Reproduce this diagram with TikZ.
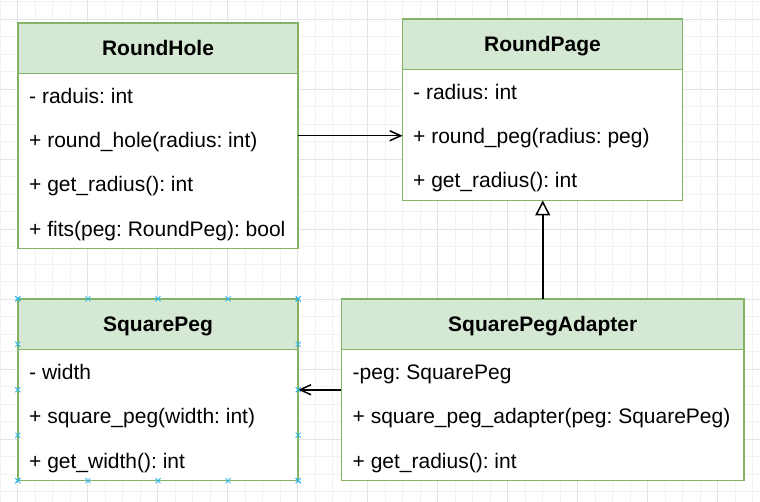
\documentclass[tikz,border=0pt]{standalone}
\usepackage{fontspec}
\setmainfont{Liberation Sans}
\usetikzlibrary{positioning,fit,arrows.meta,calc}
\definecolor{umlline}{HTML}{82B366}
\definecolor{umlfill}{HTML}{D5E8D4}
\definecolor{selblue}{HTML}{29B6F2}
\frenchspacing

\begin{document}
\begin{tikzpicture}[
  head/.style={draw=umlline,fill=umlfill,line width=1.5pt,outer sep=0pt,inner sep=0pt,minimum width=280pt,minimum height=50.5pt,font=\fontsize{21}{25}\selectfont\bfseries,text height=15pt,text depth=0pt,anchor=north west},
  body/.style={draw=umlline,fill=white,line width=1.5pt,outer sep=0pt,inner sep=0pt,minimum width=280pt,minimum height=131pt},
  row/.style={font=\fontsize{21}{25}\selectfont,inner sep=0pt,text height=15pt,text depth=29pt},
  assoc/.style={line width=1.5pt,-{Straight Barb[length=11pt,width=10pt,line width=1.5pt]}},
  inherit/.style={line width=1.5pt,-{Triangle[open,length=15pt,width=15pt,fill=white,line width=1.5pt]}},
  sel/.style={selblue,line width=0.8pt}
]
\useasboundingbox (0,0) rectangle (760pt,-502pt);
\fill[white] (0,0) rectangle (760pt,-502pt);

% Background grid
\begin{scope}[shift={(17.5pt,-19pt)}]
\clip (-17.5pt,19pt) rectangle (742.5pt,-483pt);
\draw[gray!10,line width=0.8pt,step=17.5pt] (-35pt,-490pt) grid (750pt,35pt);
\draw[gray!22,line width=0.8pt,step=70pt] (-70pt,-490pt) grid (750pt,70pt);
\end{scope}

% RoundHole
\node[head] (holehead) at (18pt,-23pt) {RoundHole};
\node[body,minimum height=175pt,below=0pt of holehead] (holebody) {};
\node[row,below right=14.5pt and 11pt of holebody.north west] (hole1) {- raduis: int};
\node[row,below=0pt of hole1.south west,anchor=north west] (hole2) {+ round\_hole(radius: int)};
\node[row,below=0pt of hole2.south west,anchor=north west] (hole3) {+ get\_radius(): int};
\node[row,below=0pt of hole3.south west,anchor=north west] (hole4) {+ fits(peg: RoundPeg): bool};
\node[fit=(holehead)(holebody),inner sep=0pt] (hole) {};

% RoundPage
\node[head] (pagehead) at (402.5pt,-19pt) {RoundPage};
\node[body,below=0pt of pagehead] (pagebody) {};
\node[row,below right=14.5pt and 10.5pt of pagebody.north west] (page1) {- radius: int};
\node[row,below=0pt of page1.south west,anchor=north west] (page2) {+ round\_peg(radius: peg)};
\node[row,below=0pt of page2.south west,anchor=north west] (page3) {+ get\_radius(): int};
\node[fit=(pagehead)(pagebody),inner sep=0pt] (page) {};

% SquarePeg
\node[head] (peghead) at (18pt,-299pt) {SquarePeg};
\node[body,below=0pt of peghead] (pegbody) {};
\node[row,below right=14.5pt and 11pt of pegbody.north west] (peg1) {- width};
\node[row,below=0pt of peg1.south west,anchor=north west] (peg2) {+ square\_peg(width: int)};
\node[row,below=0pt of peg2.south west,anchor=north west] (peg3) {+ get\_width(): int};
\node[fit=(peghead)(pegbody),inner sep=0pt] (peg) {};

% SquarePegAdapter
\node[head,minimum width=402.5pt] (adapthead) at (341.5pt,-299pt) {SquarePegAdapter};
\node[body,minimum width=402.5pt,below=0pt of adapthead] (adaptbody) {};
\node[row,below right=14.5pt and 11pt of adaptbody.north west] (adapt1) {-peg: SquarePeg};
\node[row,below=0pt of adapt1.south west,anchor=north west] (adapt2) {+ square\_peg\_adapter(peg: SquarePeg)};
\node[row,below=0pt of adapt2.south west,anchor=north west] (adapt3) {+ get\_radius(): int};
\node[fit=(adapthead)(adaptbody),inner sep=0pt] (adapter) {};

% Connectors
\draw[assoc] (hole.east) -- (hole.east -| pagebody.west);
\draw[inherit] (adapter.north) -- (adapter.north |- pagebody.south);
\draw[assoc] (adapter.west) -- (peg.east);

% Selection handles
\foreach \f in {0,0.25,0.5,0.75,1} {
  \draw[sel] ($(peg.north west)!\f!(peg.north east)$) +(-2.5pt,-2.5pt) -- +(2.5pt,2.5pt) +(-2.5pt,2.5pt) -- +(2.5pt,-2.5pt);
  \draw[sel] ($(peg.south west)!\f!(peg.south east)$) +(-2.5pt,-2.5pt) -- +(2.5pt,2.5pt) +(-2.5pt,2.5pt) -- +(2.5pt,-2.5pt);
  \draw[sel] ($(peg.north west)!\f!(peg.south west)$) +(-2.5pt,-2.5pt) -- +(2.5pt,2.5pt) +(-2.5pt,2.5pt) -- +(2.5pt,-2.5pt);
  \draw[sel] ($(peg.north east)!\f!(peg.south east)$) +(-2.5pt,-2.5pt) -- +(2.5pt,2.5pt) +(-2.5pt,2.5pt) -- +(2.5pt,-2.5pt);
}
\end{tikzpicture}
\end{document}
